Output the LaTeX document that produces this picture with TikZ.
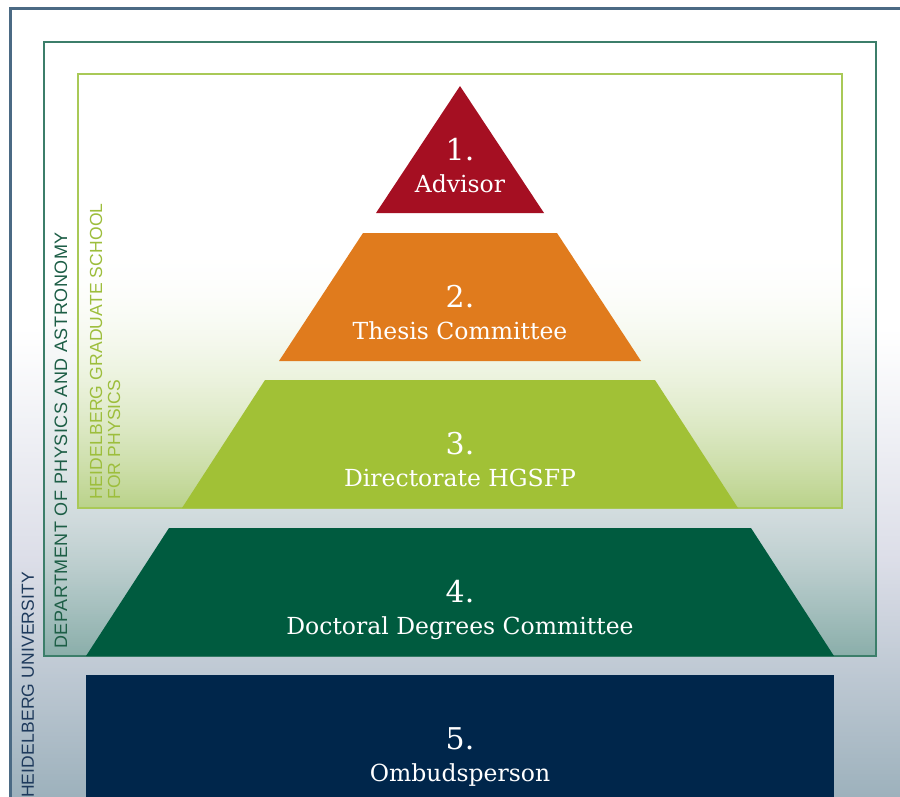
\documentclass[tikz,border=0pt]{standalone}
\usepackage{fontspec}
\setmainfont{DejaVu Serif}
\newfontfamily\tagfont[LetterSpace=3]{Liberation Sans}
\newfontfamily\tighttagfont[LetterSpace=1]{Liberation Sans}
\usepackage{tikz}
\definecolor{uniframe}{HTML}{4B6A84}
\definecolor{deptframe}{HTML}{3C7E6A}
\definecolor{schoolframe}{HTML}{A9C957}
\definecolor{unitext}{HTML}{1E3A5C}
\definecolor{depttext}{HTML}{1D5E46}
\definecolor{schooltext}{HTML}{9DBE3C}
\definecolor{advisor}{HTML}{A50F22}
\definecolor{committee}{HTML}{E07B1D}
\definecolor{directorate}{HTML}{A1C136}
\definecolor{degrees}{HTML}{005B3F}
\definecolor{ombuds}{HTML}{00264B}
\definecolor{unimid}{HTML}{DCDEE8}
\definecolor{unilow}{HTML}{9DB1BC}
\definecolor{deptmid}{HTML}{D2DCDE}
\definecolor{deptlow}{HTML}{8AAEAA}
\definecolor{schoollow}{HTML}{BAD28A}
\tikzset{%
    tiernum/.style={anchor=base, inner sep=0pt, text=white, font=\fontsize{30}{30}\selectfont},
    tiername/.style={anchor=base, inner sep=0pt, text=white, font=\fontsize{23.5}{28}\selectfont},
    sidelabel/.style={rotate=90, anchor=base west, inner sep=0pt, font=\tagfont\fontsize{18}{18}\selectfont},
    tightlabel/.style={sidelabel, font=\tighttagfont\fontsize{17.5}{18}\selectfont}
}

\begin{document}
\begin{tikzpicture}[x=1pt, y=-1pt]
  \useasboundingbox (0,0) rectangle (900,796);

  % backgrounds, in thin strips
  \foreach \k in {0,...,114} {
    \pgfmathsetmacro\p{100*(\k+0.5)/115}
    \fill[unimid!\p!white] (10,{330+2*\k}) rectangle (900,{332.4+2*\k});
  }
  \foreach \k in {0,...,118} {
    \pgfmathsetmacro\p{100*(\k+0.5)/119}
    \fill[unilow!\p!unimid] (10,{560+2*\k}) rectangle (900,{562.4+2*\k});
  }
  \fill[white] (44,42) rectangle (876,280);
  \foreach \k in {0,...,114} {
    \pgfmathsetmacro\p{100*((\k+0.5)/115)^1.3}
    \fill[deptmid!\p!white] (44,{280+2*\k}) rectangle (876,{282.4+2*\k});
  }
  \foreach \k in {0,...,72} {
    \pgfmathsetmacro\p{100*((\k+0.5)/73)^1.2}
    \fill[deptlow!\p!deptmid] (44,{510+2*\k}) rectangle (876,{512.4+2*\k});
  }
  \fill[white] (78,74) rectangle (842,250);
  \foreach \k in {0,...,128} {
    \pgfmathsetmacro\p{100*((\k+0.5)/129)^1.8}
    \fill[schoollow!\p!white] (78,{250+2*\k}) rectangle (842,{252.4+2*\k});
  }

  % frames
  \draw[uniframe, line width=3pt] (10,810) -- (10,8) -- (910,8);
  \draw[deptframe, line width=2pt] (44,42) rectangle (876,656);
  \draw[schoolframe, line width=2pt] (78,74) rectangle (842,508);

  \node[tightlabel, text=unitext] (uni) at (34,798) {HEIDELBERG UNIVERSITY};
  \node[sidelabel, text=depttext] (dept) at (67,649) {DEPARTMENT OF PHYSICS AND ASTRONOMY};
  \node[tightlabel, text=schooltext] (school) at (102,500) {HEIDELBERG GRADUATE SCHOOL};
  \node[tightlabel, text=schooltext] (schoolb) at (120,500) {FOR PHYSICS};

  % pyramid
  \fill[advisor] (460,86) -- (544,213) -- (376,213) -- cycle;
  \fill[committee] (363,233) -- (557,233) -- (641,361) -- (279,361) -- cycle;
  \fill[directorate] (265,380) -- (655,380) -- (738,508) -- (182,508) -- cycle;
  \fill[degrees] (169,528) -- (751,528) -- (834,656) -- (86,656) -- cycle;
  \fill[ombuds] (86,675) rectangle (834,810);

  \node[tiernum] (n1) at (460,160) {1.};
  \node[tiername] (t1) at (460,192) {Advisor};
  \node[tiernum] (n2) at (460,307) {2.};
  \node[tiername] (t2) at (460,339) {Thesis Committee};
  \node[tiernum] (n3) at (460,454) {3.};
  \node[tiername] (t3) at (460,486) {Directorate HGSFP};
  \node[tiernum] (n4) at (460,602) {4.};
  \node[tiername] (t4) at (460,634) {Doctoral Degrees Committee};
  \node[tiernum] (n5) at (460,749) {5.};
  \node[tiername] (t5) at (460,781) {Ombudsperson};
\end{tikzpicture}
\end{document}
